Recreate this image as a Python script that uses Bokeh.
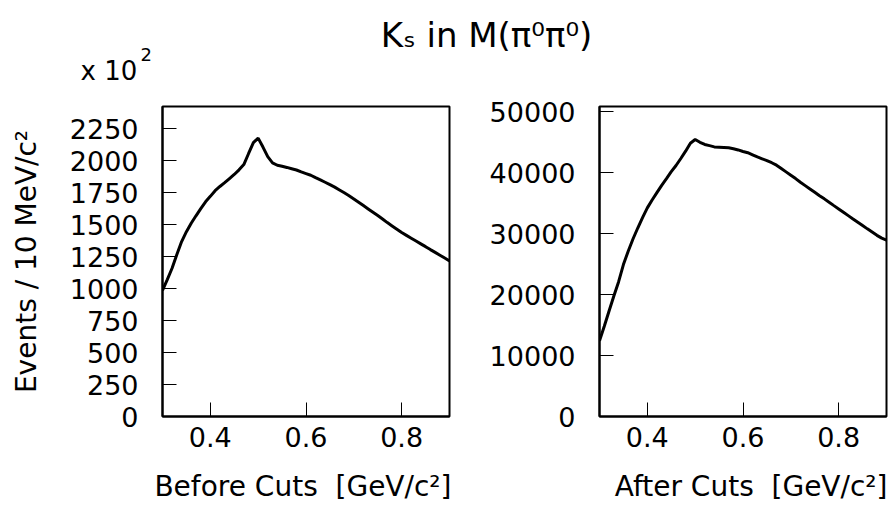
from bokeh.plotting import figure
from bokeh.models import Range1d, FixedTicker, Label
from bokeh.layouts import column, row
from bokeh.embed import file_html
from bokeh.resources import INLINE

# ---- data ----
mass = [0.30, 0.31, 0.32, 0.33, 0.34, 0.35, 0.36, 0.37, 0.38, 0.39,
        0.40, 0.41, 0.42, 0.43, 0.44, 0.45, 0.46, 0.47, 0.48, 0.49,
        0.50, 0.51, 0.52, 0.53, 0.54, 0.55, 0.56, 0.57, 0.58, 0.59,
        0.60, 0.61, 0.62, 0.63, 0.64, 0.65, 0.66, 0.67, 0.68, 0.69,
        0.70, 0.71, 0.72, 0.73, 0.74, 0.75, 0.76, 0.77, 0.78, 0.79,
        0.80, 0.81, 0.82, 0.83, 0.84, 0.85, 0.86, 0.87, 0.88, 0.89, 0.90]

# events / 10 MeV/c^2, in units of 10^2
before_cuts = [985, 1070, 1158, 1265, 1367, 1444, 1510, 1568, 1624, 1677,
               1720, 1764, 1797, 1827, 1859, 1891, 1927, 1968, 2055, 2140,
               2175, 2105, 2030, 1982, 1963, 1955, 1946, 1936, 1926, 1911,
               1898, 1885, 1866, 1848, 1830, 1811, 1792, 1770, 1748, 1725,
               1700, 1674, 1648, 1622, 1596, 1570, 1543, 1515, 1489, 1463,
               1437, 1415, 1393, 1371, 1349, 1327, 1304, 1282, 1260, 1238, 1216]

after_cuts = [12400, 14800, 17300, 19750, 22100, 24900, 27100, 29100, 30900, 32600,
              34200, 35500, 36700, 37900, 39000, 40150, 41150, 42300, 43500, 44800,
              45400, 44950, 44600, 44400, 44200, 44150, 44100, 44050, 43900, 43700,
              43450, 43250, 42900, 42550, 42250, 41950, 41600, 41200, 40650, 40100,
              39550, 39000, 38400, 37850, 37300, 36750, 36200, 35680, 35120, 34570,
              34030, 33480, 32930, 32380, 31840, 31300, 30760, 30230, 29700, 29250, 28900]

x_ticks = [0.4, 0.6, 0.8]
before_yticks = [0, 250, 500, 750, 1000, 1250, 1500, 1750, 2000, 2250]
after_yticks = [0, 10000, 20000, 30000, 40000, 50000]

FONT = "DejaVu Sans"
TOP_H = 90
BOTTOM_H = 47
PANEL_H = 508 - TOP_H - BOTTOM_H


def strip(height):
    s = figure(width=890, height=height, x_range=Range1d(0, 890), y_range=Range1d(0, height),
               output_backend="svg", toolbar_location=None,
               min_border=0, min_border_left=0, min_border_right=0,
               min_border_top=0, min_border_bottom=0)
    s.axis.visible = False
    s.grid.visible = False
    s.outline_line_color = None
    return s


def text(fig, x, y, t, size, align="left"):
    fig.add_layout(Label(x=x, y=y, x_units="screen", y_units="screen", text=t,
                         text_align=align, text_baseline="alphabetic",
                         text_font=FONT, text_font_size=size, text_color="black"))


def panel(width, border_left, border_right, ymax, yticks, values):
    p = figure(width=width, height=PANEL_H,
               x_range=Range1d(0.3, 0.9), y_range=Range1d(0, ymax),
               output_backend="svg", toolbar_location=None,
               min_border_left=border_left, min_border_right=border_right,
               min_border_top=106 - TOP_H, min_border_bottom=PANEL_H - (416 - TOP_H))
    p.grid.visible = False
    p.background_fill_color = "white"
    p.border_fill_color = "white"
    p.outline_line_color = "black"
    p.outline_line_width = 2
    p.outline_line_alpha = 1
    for ax in (p.xaxis[0], p.yaxis[0]):
        ax.axis_line_width = 2
        ax.axis_line_color = "black"
        ax.major_tick_in = 14
        ax.major_tick_out = 0
        ax.major_tick_line_color = "black"
        ax.major_tick_line_width = 1
        ax.minor_tick_in = 0
        ax.minor_tick_out = 0
        ax.minor_tick_line_color = None
        ax.major_label_text_font = FONT
        ax.major_label_text_font_size = "27px"
        ax.major_label_text_color = "black"
    p.xaxis[0].ticker = FixedTicker(ticks=x_ticks)
    p.yaxis[0].ticker = FixedTicker(ticks=yticks)
    p.xaxis[0].major_label_standoff = 10
    p.yaxis[0].major_label_standoff = 24
    p.line(mass, values, line_width=3, line_color="black")
    return p


left = panel(470, 162, 21, 2422, before_yticks, before_cuts)
right = panel(420, 129, 4, 50820, after_yticks, after_cuts)

left.yaxis[0].axis_label = "Events / 10 MeV/c²"
left.yaxis[0].axis_label_text_font = FONT
left.yaxis[0].axis_label_text_font_size = "28px"
left.yaxis[0].axis_label_text_font_style = "normal"
left.yaxis[0].axis_label_text_color = "black"
left.yaxis[0].axis_label_standoff = 24

top = strip(TOP_H)
text(top, 486, 56, "Kₛ in M(π⁰π⁰)", "34px", "center")
text(top, 80, 20, "x 10", "26px")
text(top, 140, 36, "2", "18px")

bottom = strip(BOTTOM_H)
text(bottom, 451, 22, "Before Cuts \u00a0[GeV/c²]", "28px", "right")
text(bottom, 887, 22, "After Cuts \u00a0[GeV/c²]", "28px", "right")

layout = column(top, row(left, right, spacing=0), bottom, spacing=0)

open("out.html", "w").write(file_html(layout, INLINE))
